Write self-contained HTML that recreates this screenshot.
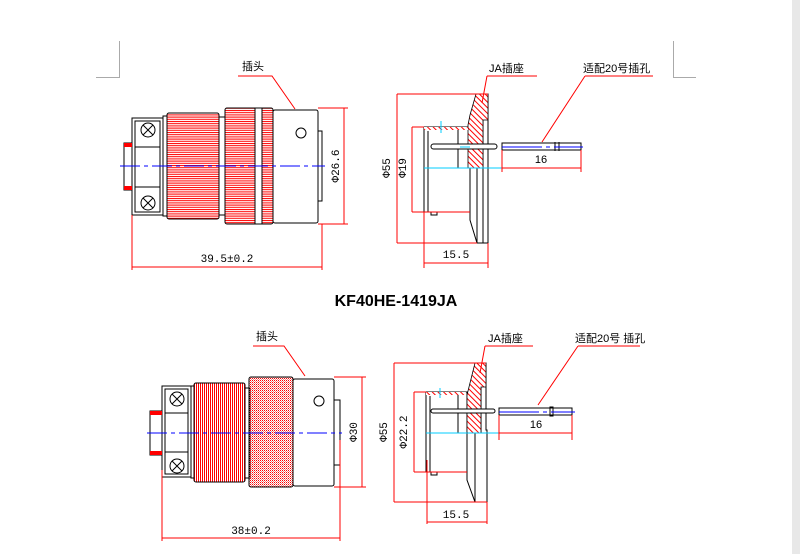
<!DOCTYPE html>
<html><head><meta charset="utf-8"><style>
html,body{margin:0;padding:0;background:#fff;width:800px;height:554px;overflow:hidden}
svg{display:block}
text{font-family:"Liberation Sans","Noto Sans CJK SC",sans-serif;font-size:11px;fill:#000}
.t{font-family:"Liberation Mono","Noto Sans CJK SC",monospace;font-size:11px}
</style></head><body>
<svg width="800" height="554" viewBox="0 0 800 554" xmlns="http://www.w3.org/2000/svg">
<defs>
<pattern id="vl" width="2" height="4" patternUnits="userSpaceOnUse"><rect width="1" height="4" fill="#f00"/></pattern>
<pattern id="hl" width="4" height="2.2" patternUnits="userSpaceOnUse"><rect width="4" height="1" fill="#f00"/></pattern>
<pattern id="dots" width="2" height="2" patternUnits="userSpaceOnUse"><rect width="1" height="1" fill="#f00"/><rect x="1" y="1" width="1" height="1" fill="#e88"/></pattern>
<pattern id="hat" width="4" height="4" patternUnits="userSpaceOnUse" patternTransform="rotate(-45)"><rect width="4" height="4" fill="#fff"/><rect width="1" height="4" fill="#f00"/></pattern>
</defs>
<rect x="792" y="0" width="8" height="554" fill="#e8e8e8"/>
<g stroke="#aaa" stroke-width="1" fill="none">
<path d="M119.5 41V77.5H96"/><path d="M673.5 41V77.5H696"/>
</g>

<!-- ===== TOP LEFT PLUG ===== -->
<g stroke="#000" stroke-width="1" fill="none">
<rect x="124" y="143" width="8" height="47" fill="#fff"/>
<rect x="132" y="118" width="31" height="97" fill="#fff"/>
<rect x="135" y="121" width="25" height="91"/>
<line x1="135" y1="147" x2="160" y2="147"/><line x1="135" y1="187" x2="160" y2="187"/>
<circle cx="148" cy="130" r="7"/><circle cx="148" cy="203" r="7"/>
<path d="M143 125l10 10M153 125l-10 10M143 198l10 10M153 198l-10 10"/>
<rect x="163" y="116" width="4" height="100"/>
<rect x="167" y="113" width="52" height="106" rx="2" fill="url(#hl)"/>
<rect x="219" y="117" width="6" height="98"/>
<rect x="225" y="108" width="48" height="116" rx="2" fill="url(#hl)"/>
<rect x="255" y="108" width="7" height="116" fill="#fff"/>
<rect x="273" y="110" width="45" height="113" rx="2" fill="#fff"/>
<circle cx="301" cy="133" r="5"/>
<rect x="318" y="131" width="4" height="70"/>
</g>
<rect x="124" y="143" width="8" height="4" fill="#f00"/><rect x="124" y="186" width="8" height="4" fill="#f00"/>
<line x1="120" y1="166" x2="325" y2="166" stroke="#00f" stroke-dasharray="20,4,4,4"/>
<g stroke="#f00" stroke-width="1" fill="none">
<path d="M238 76H272L295 109"/>
<path d="M318 108H348M318 224H348M344 108V224"/>
<path d="M132 215V270M322 224V270M132 267H322"/>
</g>
<text x="242" y="70">插头</text>
<text class="t" x="339" y="166" text-anchor="middle" transform="rotate(-90 339 166)">Φ26.6</text>
<text class="t" x="227" y="262" text-anchor="middle">39.5±0.2</text>

<!-- ===== TOP RIGHT SOCKET ===== -->
<g stroke="#000" stroke-width="1" fill="none">
<rect x="424" y="127" width="46" height="85" fill="#fff"/>
<line x1="458" y1="127" x2="458" y2="168"/>
<line x1="428" y1="131" x2="428" y2="212"/>
<path d="M476 94H488V243M483 120V243M470 168V220L477 243H488M477 168V243"/>
<rect x="431" y="212" width="6" height="3"/>
<rect x="502" y="143" width="79" height="7"/>
<line x1="555" y1="142" x2="555" y2="151"/><line x1="559" y1="142" x2="559" y2="151"/>
</g>
<path d="M476 94H488V120H483V168H468V125L470 115Z" fill="url(#hat)" stroke="#000" stroke-width="0.8"/>
<rect x="424" y="127" width="44" height="3" fill="url(#hat)"/>
<rect x="431" y="144" width="66" height="5" rx="2.5" fill="#fff" stroke="#000"/>
<line x1="502" y1="147" x2="583" y2="147" stroke="#00f" stroke-dasharray="40,4,4,4"/>
<g stroke="#0cf" fill="none"><path d="M424 168H503M441 121V133M460 147H470"/></g>
<g stroke="#f00" stroke-width="1" fill="none">
<path d="M487 76H537M487 76L482 103"/>
<path d="M585 76H653M585 76L542 142"/>
<path d="M397 94H488M397 243H477M397 94V243"/>
<path d="M412 127H424M412 212H470M412 127V212"/>
<path d="M424 212V268M488 243V268M424 263H488"/>
<path d="M502 150V172M581 150V172M502 168H581"/>
</g>
<text x="489" y="72">JA插座</text>
<text x="583" y="72">适配20号插孔</text>
<text class="t" x="390" y="168" text-anchor="middle" transform="rotate(-90 390 168)">Φ55</text>
<text class="t" x="406" y="168" text-anchor="middle" transform="rotate(-90 406 168)">Φ19</text>
<text class="t" x="456" y="258" text-anchor="middle">15.5</text>
<text x="541" y="163" text-anchor="middle">16</text>

<text x="396" y="306" text-anchor="middle" style="font-weight:bold;font-size:16px">KF40HE-1419JA</text>

<!-- ===== BOTTOM LEFT PLUG ===== -->
<g stroke="#000" stroke-width="1" fill="none">
<rect x="150" y="411" width="12" height="44" fill="#fff"/>
<rect x="162" y="386" width="29" height="91" fill="#fff"/>
<rect x="165" y="389" width="23" height="85"/>
<line x1="165" y1="413" x2="188" y2="413"/><line x1="165" y1="452" x2="188" y2="452"/>
<circle cx="177" cy="399" r="7"/><circle cx="177" cy="466" r="7"/>
<path d="M172 394l10 10M182 394l-10 10M172 461l10 10M182 461l-10 10"/>
<rect x="191" y="386" width="3" height="92"/>
<rect x="194" y="383" width="51" height="99" rx="2" fill="url(#vl)"/>
<rect x="245" y="388" width="5" height="90"/>
<rect x="249" y="377" width="44" height="110" rx="2" fill="url(#dots)"/>
<rect x="293" y="379" width="41" height="107" rx="2" fill="#fff"/>
<circle cx="319" cy="401" r="5"/>
<rect x="334" y="400" width="6" height="65"/>
</g>
<rect x="150" y="411" width="12" height="4" fill="#f00"/><rect x="150" y="451" width="12" height="4" fill="#f00"/>
<line x1="147" y1="433" x2="342" y2="433" stroke="#00f" stroke-dasharray="20,4,4,4"/>
<g stroke="#f00" stroke-width="1" fill="none">
<path d="M253 346H284L305 376"/>
<path d="M334 377H366M334 487H366M362 377V487"/>
<path d="M162 470V541M340 440V541M162 538H340"/>
</g>
<text x="256" y="340">插头</text>
<text class="t" x="357" y="432" text-anchor="middle" transform="rotate(-90 357 432)">Φ30</text>
<text class="t" x="251" y="534" text-anchor="middle">38±0.2</text>

<!-- ===== BOTTOM RIGHT SOCKET ===== -->
<g stroke="#000" stroke-width="1" fill="none">
<rect x="426" y="392" width="41" height="80" fill="#fff"/>
<line x1="458" y1="395" x2="458" y2="433"/>
<line x1="430" y1="396" x2="430" y2="472"/>
<path d="M475 363H486V430H487V502M481 387V433M467 433V480L475 502H487M475 433V502"/>
<rect x="431" y="472" width="6" height="3"/>
<rect x="499" y="408" width="73" height="7"/>
<rect x="550" y="407" width="3" height="9"/>
</g>
<path d="M475 363H486V387H481V433H467V395L470 383Z" fill="url(#hat)" stroke="#000" stroke-width="0.8"/>
<rect x="426" y="392" width="40" height="3" fill="url(#hat)"/>
<rect x="431" y="409" width="64" height="4" rx="2" fill="#fff" stroke="#000"/>
<line x1="499" y1="412" x2="575" y2="412" stroke="#00f" stroke-dasharray="40,4,4,4"/>
<g stroke="#0cf" fill="none"><path d="M426 433H500M440 388V398"/></g>
<g stroke="#f00" stroke-width="1" fill="none">
<path d="M485 346H533M485 346L480 373"/>
<path d="M578 346H640M578 346L538 405"/>
<path d="M394 363H486M394 502H487M394 363V502"/>
<path d="M414 392H426M414 472H467M414 392V472"/>
<path d="M427 460V524M487 502V524M427 522H487"/>
<path d="M499 415V440M572 415V440M499 433H572"/>
</g>
<text x="488" y="342">JA插座</text>
<text x="575" y="342">适配20号 插孔</text>
<text class="t" x="387" y="432" text-anchor="middle" transform="rotate(-90 387 432)">Φ55</text>
<text class="t" x="407" y="432" text-anchor="middle" transform="rotate(-90 407 432)">Φ22.2</text>
<text class="t" x="456" y="518" text-anchor="middle">15.5</text>
<text x="536" y="428" text-anchor="middle">16</text>
</svg>
</body></html>
